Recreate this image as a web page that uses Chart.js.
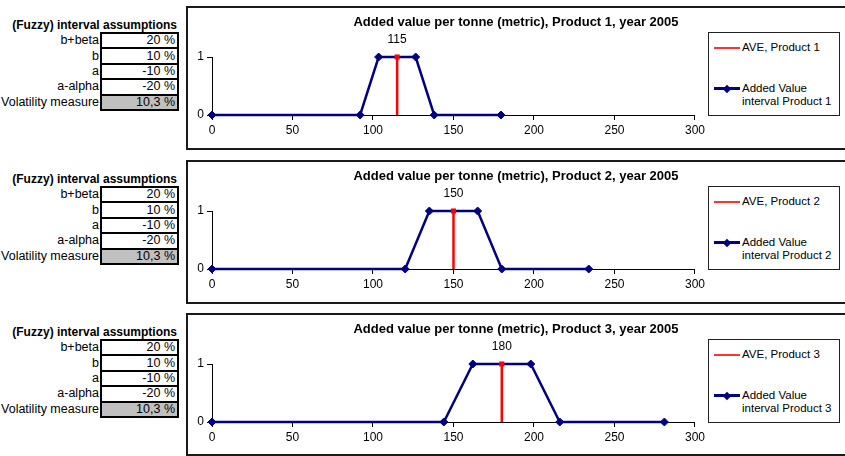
<!DOCTYPE html>
<html>
<head>
<meta charset="utf-8">
<script src="https://cdn.jsdelivr.net/npm/chart.js@4/dist/chart.umd.min.js"></script>
<style>
body { margin: 0; width: 845px; height: 456px; overflow: hidden; background: #fff;
       font-family: "Liberation Sans", Arial, sans-serif; color: #000; position: relative; }
.panel { position: absolute; left: 0; width: 845px; height: 150px; }
.hd { position: absolute; left: 0; top: 12px; width: 177px; text-align: right;
      font-weight: bold; font-size: 12px; line-height: 14px; white-space: nowrap; }
table { position: absolute; left: 0; top: 26px; border-collapse: collapse; font-size: 12.5px; }
td { height: 13.4px; line-height: 13px; padding: 0; white-space: nowrap; }
td.lab { width: 99px; text-align: right; padding-right: 1px; }
td.val { width: 73px; text-align: right; padding-right: 2px; border: 2px solid #000; background: #fff; }
td.grey { background: #c0c0c0; }
.box { position: absolute; left: 186px; top: 0; width: 700px; height: 144px;
       border: 2px solid #1a1a1a; box-sizing: border-box; }
.box canvas { position: absolute; left: 0; top: 0; }
.title { position: absolute; left: 316px; top: 8px; width: 400px; text-align: center;
         font-weight: bold; font-size: 13px; white-space: nowrap; }
.legend { position: absolute; left: 708px; top: 26px; width: 132px; height: 84px;
          border: 1px solid #222; box-sizing: border-box; background: #fff; font-size: 11.5px; }
.legend .ln { position: absolute; left: 5px; width: 26px; }
.legend .lt { position: absolute; left: 33px; line-height: 13px; white-space: nowrap; }
.legend .dia { position: absolute; width: 6px; height: 6px; background: #000080; transform: rotate(45deg); }
</style>
</head>
<body>
<script>
// values
const products = ['Product 1', 'Product 2', 'Product 3'];
const aveValues = [115, 150, 180];
const intervalX1 = [0, 92, 103.5, 126.5, 138, 179.5];
const intervalX2 = [0, 120, 135, 165, 180, 234];
const intervalX3 = [0, 144, 162, 198, 216, 281];
const intervalY = [0, 0, 1, 1, 0, 0];
const xTicks = [0, 50, 100, 150, 200, 250, 300];
const yTicks = [0, 1];
const assumptionLabels = ['b+beta', 'b', 'a', 'a-alpha', 'Volatility measure'];
const assumptionValues = ['20 %', '10 %', '-10 %', '-20 %', '10,3 %'];

const intervals = [intervalX1, intervalX2, intervalX3];
const panelTops = [6, 160, 313];
const boxHeights = [144, 144, 143];

Chart.defaults.font.family = '"Liberation Sans", Arial, sans-serif';
Chart.defaults.color = '#000';

// "115" etc. above the top of the AVE line
const aveLabel = {
    id: 'aveLabel',
    afterDatasetsDraw(chart) {
        const pt = chart.getDatasetMeta(0).data[1];
        const ctx = chart.ctx;
        ctx.save();
        ctx.font = '12px "Liberation Sans", Arial, sans-serif';
        ctx.fillStyle = '#000';
        ctx.textAlign = 'center';
        ctx.textBaseline = 'middle';
        ctx.fillText(String(chart.data.datasets[0].data[1].x), pt.x, pt.y - 17);
        ctx.restore();
    }
};

function axis(ticks, min, max, fit) {
    return {
        type: 'linear',
        min: min,
        max: max,
        afterBuildTicks: s => { s.ticks = ticks.map(v => ({ value: v })); },
        afterFit: fit,
        grid: { drawOnChartArea: false, drawTicks: true, tickLength: 5, color: '#000', tickColor: '#000' },
        border: { display: true, color: '#000', width: 1 },
        ticks: { font: { size: 12 }, color: '#000', padding: 3, maxRotation: 0 }
    };
}

products.forEach((name, i) => {
    const panel = document.createElement('div');
    panel.className = 'panel';
    panel.style.top = panelTops[i] + 'px';

    // assumptions table
    let rows = '';
    assumptionLabels.forEach((lab, k) => {
        const grey = k === assumptionLabels.length - 1 ? ' grey' : '';
        rows += `<tr><td class="lab">${lab}</td><td class="val${grey}">${assumptionValues[k]}</td></tr>`;
    });
    panel.innerHTML =
        `<div class="hd">(Fuzzy) interval assumptions</div><table>${rows}</table>` +
        `<div class="box" style="height:${boxHeights[i]}px"><canvas width="520" height="140"></canvas></div>` +
        `<div class="title">Added value per tonne (metric), ${name}, year 2005</div>` +
        `<div class="legend">` +
        `<div class="ln" style="top:14px;height:2px;background:#ff3333"></div>` +
        `<div class="lt" style="top:8px">AVE, ${name}</div>` +
        `<div class="ln" style="top:54px;height:3px;background:#000080"></div>` +
        `<div class="dia" style="left:15px;top:52.5px"></div>` +
        `<div class="lt" style="top:49px">Added Value<br>interval ${name}</div>` +
        `</div>`;
    document.body.appendChild(panel);

    const canvas = panel.querySelector('canvas');
    new Chart(canvas, {
        type: 'scatter',
        data: {
            datasets: [{
                label: 'AVE, ' + name,
                data: [{ x: aveValues[i], y: 0 }, { x: aveValues[i], y: 1 }],
                showLine: true,
                borderColor: '#ff0000',
                backgroundColor: '#ff0000',
                borderWidth: 2.5,
                pointStyle: 'rect',
                pointRadius: [0, 3.6],
                pointBorderWidth: 0,
                clip: false
            }, {
                label: 'Added Value interval ' + name,
                data: intervals[i].map((x, k) => ({ x: x, y: intervalY[k] })),
                showLine: true,
                borderColor: '#000080',
                backgroundColor: '#000080',
                borderWidth: 2.5,
                pointStyle: 'rectRot',
                pointRadius: 4,
                pointBorderWidth: 1,
                clip: false
            }]
        },
        options: {
            responsive: false,
            animation: false,
            events: [],
            layout: { padding: { top: 49, right: 9, left: 0, bottom: 0 } },
            plugins: {
                legend: { display: false },
                tooltip: { enabled: false },
                title: { display: false }
            },
            scales: {
                x: axis(xTicks, 0, 300, s => { s.height = 33; }),
                y: axis(yTicks, 0, 1, s => { s.width = 24; })
            }
        },
        plugins: [aveLabel]
    });
});
</script>
</body>
</html>
